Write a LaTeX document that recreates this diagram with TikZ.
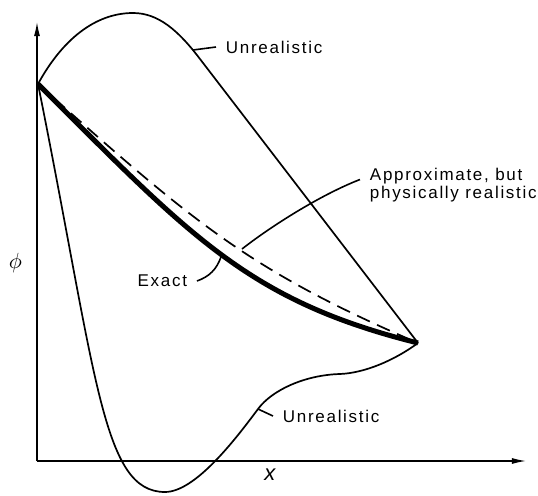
\documentclass[tikz,border=0pt]{standalone}
\usepackage{fontspec}
\setmainfont{Liberation Sans}
\newfontfamily\curvefont[LetterSpace=10]{Liberation Sans}
\usetikzlibrary{arrows.meta}

\begin{document}
\begin{tikzpicture}[
  x=0.5pt, y=0.5pt,
  % axes with arrow heads
  axis/.style={-{Latex[length=7pt, width=3pt]}, line width=0.65pt},
  % the four curves
  thincurve/.style={line width=0.85pt},
  exactcurve/.style={line width=2.5pt},
  approxcurve/.style={line width=0.85pt, dash pattern=on 7pt off 4pt},
  % labels and their leader lines
  lbl/.style={font={\curvefont\fontsize{8.5}{7.8}\selectfont}, inner sep=0pt, outer xsep=5pt},
  axlbl/.style={font=\fontsize{11}{13}\selectfont, inner sep=0pt},
  lead/.style={line width=0.8pt},
]
\useasboundingbox (0,0) rectangle (538,495);

% ── AXES ────────────────────────────────────────
\coordinate (O) at (37,34);
\coordinate (ytop) at (37,473);
\coordinate (xend) at (526,34);
\draw[axis] (O) -- (ytop);
\draw[axis] (O) -- (xend);
\node[axlbl] (philab) at (15.5,231.5) {$\phi$};
\node[axlbl] (xlab) at (270,20) {\itshape x};

% ── CURVES ──────────────────────────────────────
\coordinate (start) at (38,411);
\coordinate (finish) at (418,152);

% unrealistic, above
\draw[thincurve] (start) .. controls (62,455) and (95,482) .. (133,482)
  .. controls (158,482) and (178,465) .. (200,436) -- (finish);
% exact
\draw[exactcurve] (start) .. controls (191,258) and (249,194) .. (finish);
% approximate
\draw[approxcurve] (start) .. controls (192,274) and (248,225) .. (finish);
% unrealistic, below
\draw[thincurve] (start) .. controls (97,118) and (102,3) .. (165,3)
  .. controls (195,3) and (235,55) .. (258,86)
  .. controls (272,105) and (305,120) .. (340,121)
  .. controls (365,122) and (395,135) .. (finish);

% ── LABELS ──────────────────────────────────────
\coordinate (uptip) at (193,445);
\coordinate (exacttip) at (221,238);
\coordinate (approxtip) at (242,246);
\coordinate (lowtip) at (258,86);

\node[lbl, anchor=west] (unrealtop) at (216,448) {Unrealistic};
\node[lbl, anchor=west, align=left] (approx) at (360,309.5) {Approximate, but\\physically realistic};
\node[lbl, anchor=east] (exact) at (197,214) {Exact};
\node[lbl, anchor=west] (unrealbot) at (273,79) {Unrealistic};

\draw[lead] (uptip) -- (unrealtop.west);
\draw[lead] (approxtip) .. controls (270,268) and (320,300) .. ([yshift=3pt]approx.west);
\draw[lead] (exact.east) to[bend right=25] (exacttip);
\draw[lead] (lowtip) -- (unrealbot.west);

\end{tikzpicture}
\end{document}
